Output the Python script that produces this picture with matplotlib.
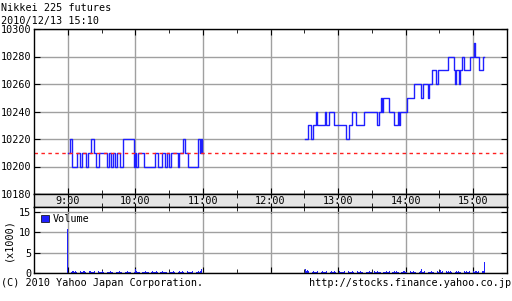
import numpy as np
import matplotlib.pyplot as plt
from matplotlib.patches import Patch

plt.rcParams['font.family'] = ['DejaVu Sans Mono']

# price steps: minutes after 9:00, price
am_t = [0, 2, 4, 8, 11, 13, 16, 18, 21, 23, 25, 28, 35, 37, 38, 40, 42, 44, 46, 49,
        59, 60, 61, 62, 68, 77, 80, 84, 86, 88, 90, 92, 98, 99, 102, 104, 107, 116,
        117, 118, 119, 120]
am_p = [10210, 10220, 10200, 10210, 10200, 10210, 10200, 10210, 10220, 10210, 10200,
        10210, 10200, 10210, 10200, 10210, 10200, 10210, 10200, 10220, 10200, 10210,
        10200, 10210, 10200, 10210, 10200, 10210, 10200, 10210, 10200, 10210, 10200,
        10210, 10220, 10210, 10200, 10220, 10210, 10220, 10210, 10210]

pm_t = [211, 213, 216, 218, 220, 221, 228, 229, 232, 236, 247, 250, 252, 256, 263,
        275, 276, 278, 279, 280, 285, 290, 293, 294, 295, 301, 307, 314, 315, 320,
        321, 323, 327, 329, 338, 342.5, 344, 345, 347, 348, 350, 352, 357, 361, 362,
        365, 369, 370]
pm_p = [10220, 10230, 10220, 10230, 10240, 10230, 10240, 10230, 10240, 10230, 10220,
        10230, 10240, 10230, 10240, 10230, 10240, 10250, 10240, 10250, 10240, 10230,
        10240, 10230, 10240, 10250, 10260, 10250, 10260, 10250, 10260, 10270, 10260,
        10270, 10280, 10270, 10260, 10270, 10260, 10270, 10280, 10270, 10280, 10290,
        10280, 10270, 10280, 10280]

prev_close = 10210

# volume (x1000) per minute
am_vol = [10.8, 0.5, 0.8, 0.3, 0.6, 0.4, 0.3, 0.5, 0.2, 0.4, 0.3, 0.6, 0.3, 0.2, 0.4,
          0.5, 0.3, 0.2, 0.3, 0.4, 0.6, 0.3, 0.2, 0.3, 0.4, 0.2, 0.3, 0.5, 0.3, 0.2,
          0.3, 0.4, 0.3, 0.2, 0.5, 0.3, 0.2, 0.3, 0.4, 0.3, 0.2, 0.3, 0.6, 0.3, 0.2,
          0.3, 0.4, 0.2, 0.3, 0.5, 0.3, 0.2, 0.3, 0.4, 0.2, 0.3, 0.3, 0.4, 0.2, 0.3,
          1.0, 0.4, 0.3, 0.2, 0.3, 0.5, 0.2, 0.3, 0.2, 0.4, 0.3, 0.2, 0.3, 0.3, 0.2,
          0.4, 0.3, 0.2, 0.3, 0.5, 0.2, 0.3, 0.2, 0.3, 0.4, 0.2, 0.3, 0.2, 0.3, 0.4,
          0.3, 0.2, 0.3, 0.2, 0.5, 0.3, 0.2, 0.3, 0.2, 0.4, 0.3, 0.2, 0.5, 0.3, 0.2,
          0.3, 0.4, 0.3, 0.2, 0.3, 0.2, 0.4, 0.3, 0.5, 0.3, 0.2, 0.4, 0.3, 0.6, 0.9,
          0.4]
pm_vol = [1.0, 0.5, 0.8, 0.4, 0.3, 0.2, 0.3, 0.4, 0.3, 0.2, 0.3, 0.5, 0.3, 0.2, 0.3,
          0.4, 0.2, 0.3, 0.3, 0.5, 0.3, 0.2, 0.3, 0.4, 0.3, 0.2, 0.6, 0.3, 0.2, 0.3,
          0.4, 0.3, 0.2, 0.3, 0.3, 0.4, 0.2, 0.3, 0.5, 0.3, 0.2, 0.3, 0.4, 0.3, 0.2,
          0.3, 0.6, 0.3, 0.2, 0.4, 0.3, 0.2, 0.3, 0.5, 0.3, 0.2, 0.3, 0.4, 0.2, 0.3,
          0.3, 0.5, 0.3, 0.2, 0.4, 0.3, 0.2, 0.3, 0.4, 0.3, 0.2, 0.3, 0.5, 0.3, 0.2,
          0.4, 0.3, 0.2, 0.3, 0.6, 0.3, 0.4, 0.3, 0.2, 0.5, 0.3, 0.2, 0.4, 0.6, 0.3,
          0.3, 0.4, 0.3, 0.5, 0.3, 0.2, 0.4, 0.3, 0.2, 0.3, 0.5, 0.3, 0.4, 0.9, 0.3,
          0.2, 0.4, 0.3, 0.5, 0.3, 0.2, 0.3, 0.4, 0.3, 0.2, 0.5, 0.3, 0.4, 0.3, 0.2,
          0.8, 0.3, 0.4, 0.3, 0.2, 0.5, 0.3, 0.4, 0.3, 0.6, 0.3, 0.2, 0.4, 0.3, 0.5,
          0.3, 0.4, 0.3, 0.2, 0.6, 0.3, 0.4, 0.3, 0.5, 0.3, 0.2, 0.4, 0.3, 0.5, 0.6,
          0.3, 0.4, 0.5, 0.3, 0.4, 0.3, 0.5, 0.4, 0.6, 2.6]
pm_vol_start = 211

hour_labels = ['9:00', '10:00', '11:00', '12:00', '13:00', '14:00', '15:00']
price_ticks = [10180, 10200, 10220, 10240, 10260, 10280, 10300]
vol_ticks = [0, 5, 10, 15]

W, H = 512, 301
fig = plt.figure(figsize=(W / 100, H / 100), dpi=100)
blue = '#1f1fff'
grid = '#a0a0a0'
fs = 7.3

L, R = 34 / W, 507 / W
ax = fig.add_axes([L, 1 - 194 / H, R - L, (194 - 29) / H])
band = fig.add_axes([L, 1 - 207 / H, R - L, 13 / H])
axv = fig.add_axes([L, 1 - 273 / H, R - L, 66 / H])

hours = np.arange(len(hour_labels)) * 60
xlim = (-30, 390)

# price panel
ax.step(am_t, am_p, where='post', color=blue, lw=1)
ax.step(pm_t, pm_p, where='post', color=blue, lw=1)
ax.axhline(prev_close, color='#ff2020', ls=(0, (2.5, 2.5)), lw=1)
ax.set_xlim(xlim)
ax.set_ylim(price_ticks[0], price_ticks[-1])
ax.set_yticks(price_ticks)
ax.set_xticks(hours)
ax.set_xticks(hours[:-1] + 30, minor=True)
ax.grid(True, color=grid, lw=1)
ax.set_axisbelow(True)
ax.tick_params(axis='x', which='both', top=True, bottom=True, direction='in',
               labelbottom=False, length=4)
ax.tick_params(axis='x', which='minor', length=3)
ax.tick_params(axis='y', right=True, direction='in', length=4, labelsize=fs, pad=2)

# time band
band.set_facecolor('#e4e4e4')
band.set_xlim(xlim)
band.set_yticks([])
band.set_xticks(hours)
band.set_xticks(hours[:-1] + 30, minor=True)
band.tick_params(axis='x', which='both', direction='in', length=3, labelbottom=False,
                 top=True)
for h, lab in zip(hours, hour_labels):
    band.text(h, 0.45, lab, ha='center', va='center', fontsize=fs,
              transform=band.get_xaxis_transform())

# volume panel
axv.bar(np.arange(len(am_vol)), am_vol, width=0.7, color=blue)
axv.bar(pm_vol_start + np.arange(len(pm_vol)), pm_vol, width=0.7, color=blue)
axv.set_xlim(xlim)
axv.set_ylim(0, 16.2)
axv.set_yticks(vol_ticks)
axv.set_xticks(hours)
axv.set_xticks(hours[:-1] + 30, minor=True)
axv.grid(True, color=grid, lw=1)
axv.set_axisbelow(True)
axv.tick_params(axis='x', which='both', top=True, bottom=True, direction='in',
                labelbottom=False, length=4)
axv.tick_params(axis='x', which='minor', length=3)
axv.tick_params(axis='y', right=True, direction='in', length=4, labelsize=fs, pad=2)
axv.set_ylabel('(x1000)', fontsize=fs, labelpad=4)
axv.legend(handles=[Patch(facecolor=blue, edgecolor='black', lw=0.5, label='Volume')],
           loc='upper left', frameon=False, fontsize=fs, handlelength=0.8,
           handleheight=0.8, handletextpad=0.3, borderaxespad=0.5,
           borderpad=0.2)

for a in (ax, band, axv):
    for s in a.spines.values():
        s.set_linewidth(1)

fig.text(1 / W, 1 - 8 / H, 'Nikkei 225 futures', fontsize=fs, va='center')
fig.text(1 / W, 1 - 21 / H, '2010/12/13 15:10', fontsize=fs, va='center')
fig.text(1 / W, 1 - 283 / H, '(C) 2010 Yahoo Japan Corporation.', fontsize=fs,
         va='center')
fig.text(511 / W, 1 - 283 / H, 'http://stocks.finance.yahoo.co.jp', fontsize=fs,
         va='center', ha='right')

fig.savefig('out.png', dpi=100)
